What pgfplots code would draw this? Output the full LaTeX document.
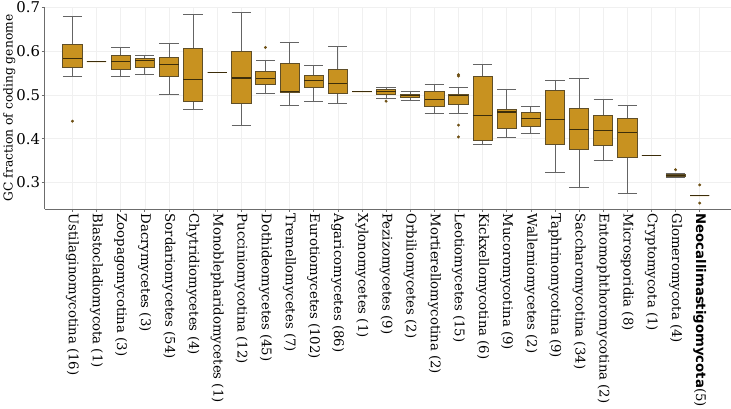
\documentclass[border=0pt]{standalone}
\usepackage{fontspec}
\setmainfont{DejaVu Serif}
\newfontfamily\dvsans{DejaVu Sans}
\usepackage{pgfplots}
\pgfplotsset{compat=1.18}
\usepgfplotslibrary{statistics}
\definecolor{boxfill}{RGB}{200,146,32}
\definecolor{boxedge}{RGB}{95,78,40}
\definecolor{whisk}{RGB}{100,100,100}
\definecolor{medcol}{RGB}{60,45,10}
\definecolor{outcol}{RGB}{110,80,20}
\begin{document}
\begin{tikzpicture}
\begin{axis}[
  scale only axis,
  width=690bp, height=203bp,
  xmin=-1.15, xmax=27.28,
  ymin=0.24, ymax=0.7,
  axis lines=left,
  axis line style={-, draw=gray!85!black, line width=0.8pt},
  xtick={0,...,26},
  xticklabels={Ustilaginomycotina (16),Blastocladiomycota (1),Zoopagomycotina (3),Dacrymycetes (3),Sordariomycetes (54),Chytridiomycetes (4),Monoblepharidomycetes (1),Pucciniomycotina (12),Dothideomycetes (45),Tremellomycetes (7),Eurotiomycetes (102),Agaricomycetes (86),Xylonomycetes (1),Pezizomycetes (9),Orbiliomycetes (2),Mortierellomycotina (2),Leotiomycetes (15),Kickxellomycotina (6),Mucoromycotina (9),Wallemiomycetes (2),Taphrinomycotina (9),Saccharomycotina (34),Entomophthoromycotina (2),Microsporidia (8),Cryptomycota (1),Glomeromycota (4),{{\dvsans\bfseries Neocallimastigomycota}(5)}},
  xticklabel style={rotate=-90, anchor=west, font=\fontsize{13.4}{14}\selectfont, inner sep=1.5pt},
  ytick={0.3,0.4,0.5,0.6,0.7},
  yticklabel style={font=\fontsize{15}{15}\selectfont, /pgf/number format/fixed, /pgf/number format/precision=1, inner sep=1.5pt},
  /pgf/number format/assume math mode=true,
  tick align=outside,
  major tick length=3bp,
  tick style={draw=gray!85!black, line width=0.6pt},
  grid=major,
  major grid style={draw=gray!12, line width=0.5pt},
  ylabel={GC fraction of coding genome},
  ylabel style={font=\fontsize{12.4}{13}\selectfont, yshift=-4bp},
  boxplot/draw direction=y,
  boxplot/box extend=0.8,
  boxplot/whisker extend=0.8,
  boxplot/every box/.style={draw=boxedge, fill=boxfill, line width=0.8pt},
  boxplot/every whisker/.style={draw=whisk, line width=0.8pt},
  boxplot/every median/.style={draw=medcol, line width=1.1pt},
  bp/.style={solid, draw=boxedge, mark=*, mark size=1.3pt, mark options={draw=outcol, fill=outcol}},
]
\addplot[bp, boxplot prepared={draw position=0, lower whisker=0.542, lower quartile=0.5635, median=0.582, upper quartile=0.614, upper whisker=0.678}] coordinates {(0,0.440)};
\addplot[bp, boxplot prepared={draw position=1, lower whisker=0.5755, lower quartile=0.5755, median=0.5755, upper quartile=0.5755, upper whisker=0.5755}] coordinates {};
\addplot[bp, boxplot prepared={draw position=2, lower whisker=0.5415, lower quartile=0.558, median=0.575, upper quartile=0.591, upper whisker=0.608}] coordinates {};
\addplot[bp, boxplot prepared={draw position=3, lower whisker=0.546, lower quartile=0.562, median=0.578, upper quartile=0.584, upper whisker=0.590}] coordinates {};
\addplot[bp, boxplot prepared={draw position=4, lower whisker=0.501, lower quartile=0.5415, median=0.569, upper quartile=0.5845, upper whisker=0.618}] coordinates {};
\addplot[bp, boxplot prepared={draw position=5, lower whisker=0.466, lower quartile=0.484, median=0.5355, upper quartile=0.607, upper whisker=0.683}] coordinates {};
\addplot[bp, boxplot prepared={draw position=6, lower whisker=0.551, lower quartile=0.551, median=0.551, upper quartile=0.551, upper whisker=0.551}] coordinates {};
\addplot[bp, boxplot prepared={draw position=7, lower whisker=0.431, lower quartile=0.481, median=0.5385, upper quartile=0.599, upper whisker=0.687}] coordinates {};
\addplot[bp, boxplot prepared={draw position=8, lower whisker=0.504, lower quartile=0.524, median=0.5363, upper quartile=0.5535, upper whisker=0.578}] coordinates {(8,0.608)};
\addplot[bp, boxplot prepared={draw position=9, lower whisker=0.4766, lower quartile=0.506, median=0.508, upper quartile=0.5725, upper whisker=0.619}] coordinates {};
\addplot[bp, boxplot prepared={draw position=10, lower whisker=0.484, lower quartile=0.518, median=0.532, upper quartile=0.5445, upper whisker=0.566}] coordinates {};
\addplot[bp, boxplot prepared={draw position=11, lower whisker=0.481, lower quartile=0.504, median=0.525, upper quartile=0.558, upper whisker=0.611}] coordinates {};
\addplot[bp, boxplot prepared={draw position=12, lower whisker=0.5075, lower quartile=0.5075, median=0.5075, upper quartile=0.5075, upper whisker=0.5075}] coordinates {};
\addplot[bp, boxplot prepared={draw position=13, lower whisker=0.4925, lower quartile=0.501, median=0.508, upper quartile=0.5114, upper whisker=0.516}] coordinates {(13,0.4856)};
\addplot[bp, boxplot prepared={draw position=14, lower whisker=0.488, lower quartile=0.4933, median=0.498, upper quartile=0.502, upper whisker=0.508}] coordinates {};
\addplot[bp, boxplot prepared={draw position=15, lower whisker=0.457, lower quartile=0.4736, median=0.490, upper quartile=0.507, upper whisker=0.523}] coordinates {};
\addplot[bp, boxplot prepared={draw position=16, lower whisker=0.457, lower quartile=0.4775, median=0.498, upper quartile=0.501, upper whisker=0.5173}] coordinates {(16,0.546) (16,0.543) (16,0.431) (16,0.404)};
\addplot[bp, boxplot prepared={draw position=17, lower whisker=0.388, lower quartile=0.396, median=0.453, upper quartile=0.541, upper whisker=0.5695}] coordinates {};
\addplot[bp, boxplot prepared={draw position=18, lower whisker=0.4034, lower quartile=0.424, median=0.461, upper quartile=0.466, upper whisker=0.512}] coordinates {};
\addplot[bp, boxplot prepared={draw position=19, lower whisker=0.4132, lower quartile=0.429, median=0.4458, upper quartile=0.4593, upper whisker=0.4743}] coordinates {};
\addplot[bp, boxplot prepared={draw position=20, lower whisker=0.3242, lower quartile=0.387, median=0.4442, upper quartile=0.510, upper whisker=0.534}] coordinates {};
\addplot[bp, boxplot prepared={draw position=21, lower whisker=0.2896, lower quartile=0.3755, median=0.4208, upper quartile=0.4698, upper whisker=0.537}] coordinates {};
\addplot[bp, boxplot prepared={draw position=22, lower whisker=0.3507, lower quartile=0.3846, median=0.4193, upper quartile=0.4532, upper whisker=0.4888}] coordinates {};
\addplot[bp, boxplot prepared={draw position=23, lower whisker=0.2744, lower quartile=0.3566, median=0.414, upper quartile=0.4458, upper whisker=0.4752}] coordinates {};
\addplot[bp, boxplot prepared={draw position=24, lower whisker=0.3627, lower quartile=0.3627, median=0.3627, upper quartile=0.3627, upper whisker=0.3627}] coordinates {};
\addplot[bp, boxplot prepared={draw position=25, lower whisker=0.3125, lower quartile=0.3135, median=0.316, upper quartile=0.3197, upper whisker=0.3205}] coordinates {(25,0.3294)};
\addplot[bp, boxplot prepared={draw position=26, lower whisker=0.2705, lower quartile=0.2705, median=0.2705, upper quartile=0.2705, upper whisker=0.2705}] coordinates {(26,0.2947) (26,0.2533)};
\end{axis}
\end{tikzpicture}
\end{document}
